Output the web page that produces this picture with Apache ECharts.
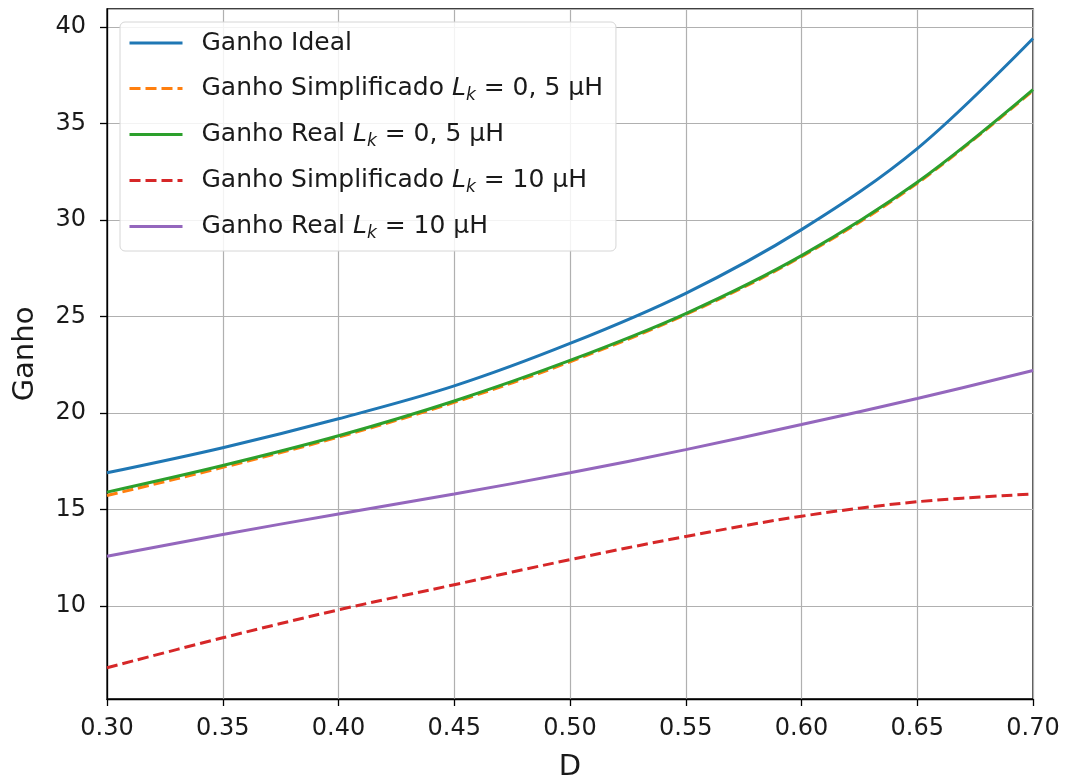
<!DOCTYPE html>
<html>
<head>
<meta charset="utf-8">
<script src="https://cdn.jsdelivr.net/npm/echarts@6/dist/echarts.min.js"></script>
<style>
  html, body { margin: 0; padding: 0; background: #fff; }
  #chart { width: 1069px; height: 782px; }
</style>
</head>
<body>
<div id="chart"></div>
<script>
// valores
const dutyCycle = [0.30, 0.35, 0.40, 0.45, 0.50, 0.55, 0.60, 0.65, 0.70]
const ganhoIdeal = [16.9, 18.2, 19.7, 21.4, 23.6, 26.2, 29.5, 33.7, 39.4]
const ganhoSimp05 = [15.72, 17.18, 18.75, 20.55, 22.65, 25.1, 28.1, 31.9, 36.7]
const ganhoReal05 = [15.9, 17.28, 18.82, 20.62, 22.72, 25.15, 28.15, 31.95, 36.75]
const ganhoSimp10 = [6.8, 8.35, 9.8, 11.1, 12.4, 13.6, 14.65, 15.4, 15.8]
const ganhoReal10 = [12.58, 13.7, 14.77, 15.8, 16.9, 18.1, 19.4, 20.75, 22.2]

const font = 'DejaVu Sans'
const txt = '#1a1a1a'

function pairs(ys) {
  return dutyCycle.map((x, i) => [x, ys[i]])
}

const legendText = {
  ideal: 'Ganho Ideal',
  simp05: 'Ganho Simplificado {it|L}{sub|k}{n| = 0, 5 µH}',
  real05: 'Ganho Real {it|L}{sub|k}{n| = 0, 5 µH}',
  simp10: 'Ganho Simplificado {it|L}{sub|k}{n| = 10 µH}',
  real10: 'Ganho Real {it|L}{sub|k}{n| = 10 µH}'
}

function makeLine(name, ys, color, dashed) {
  return {
    name: name,
    type: 'line',
    data: pairs(ys),
    smooth: 0.35,
    symbol: 'none',
    lineStyle: {
      color: color,
      width: 3,
      type: dashed ? [11, 5] : 'solid'
    },
    itemStyle: { color: color }
  }
}

const chart = echarts.init(document.getElementById('chart'))
chart.setOption({
  animation: false,
  backgroundColor: '#fff',
  grid: {
    left: 107,
    right: 36,
    top: 9,
    bottom: 83,
    outerBoundsMode: 'none',
    show: true,
    borderColor: '#000',
    borderWidth: 1.3,
    backgroundColor: 'transparent'
  },
  legend: {
    orient: 'vertical',
    left: 120,
    top: 22,
    padding: [6, 13, 9, 8],
    itemGap: 15,
    itemWidth: 53,
    itemHeight: 14,
    backgroundColor: 'rgba(255,255,255,0.85)',
    borderColor: '#d6d6d6',
    borderWidth: 1,
    borderRadius: 5,
    itemStyle: { opacity: 0 },
    lineStyle: { width: 3 },
    data: ['ideal', 'simp05', 'real05', 'simp10', 'real10'],
    formatter: function (name) {
      return legendText[name]
    },
    textStyle: {
      fontFamily: font,
      fontSize: 25,
      lineHeight: 30,
      color: txt,
      padding: [0, 0, 0, 14],
      rich: {
        it: { fontFamily: font, fontSize: 25, lineHeight: 30, fontStyle: 'italic', color: txt },
        sub: { fontFamily: font, fontSize: 17, lineHeight: 30, fontStyle: 'italic', color: txt, padding: [14, 0, 0, 0] },
        n: { fontFamily: font, fontSize: 25, lineHeight: 30, color: txt }
      }
    }
  },
  xAxis: {
    type: 'value',
    min: 0.3,
    max: 0.7,
    interval: 0.05,
    name: 'D',
    nameLocation: 'middle',
    nameGap: 54,
    nameTextStyle: { fontFamily: font, fontSize: 29, color: txt },
    axisLine: { show: true, lineStyle: { color: '#000', width: 1.3 } },
    axisTick: { show: true, length: 7, lineStyle: { color: '#000', width: 1.3 } },
    axisLabel: {
      fontFamily: font,
      fontSize: 24,
      color: txt,
      margin: 18,
      formatter: v => v.toFixed(2)
    },
    splitLine: { show: true, lineStyle: { color: '#b0b0b0', width: 1.2 } }
  },
  yAxis: {
    type: 'value',
    min: 5.18,
    max: 40.93,
    splitNumber: 7,
    name: 'Ganho',
    nameLocation: 'middle',
    nameGap: 67,
    nameTextStyle: { fontFamily: font, fontSize: 29, color: txt },
    axisLine: { show: true, lineStyle: { color: '#000', width: 1.3 } },
    axisTick: { show: true, length: 7, lineStyle: { color: '#000', width: 1.3 } },
    axisLabel: {
      fontFamily: font,
      fontSize: 24,
      color: txt,
      margin: 21,
      showMinLabel: false,
      showMaxLabel: false
    },
    splitLine: { show: true, lineStyle: { color: '#b0b0b0', width: 1.2 } }
  },
  series: [
    makeLine('ideal', ganhoIdeal, '#1f77b4', false),
    makeLine('simp05', ganhoSimp05, '#ff7f0e', true),
    makeLine('real05', ganhoReal05, '#2ca02c', false),
    makeLine('simp10', ganhoSimp10, '#d62728', true),
    makeLine('real10', ganhoReal10, '#9467bd', false)
  ]
})
</script>
</body>
</html>
